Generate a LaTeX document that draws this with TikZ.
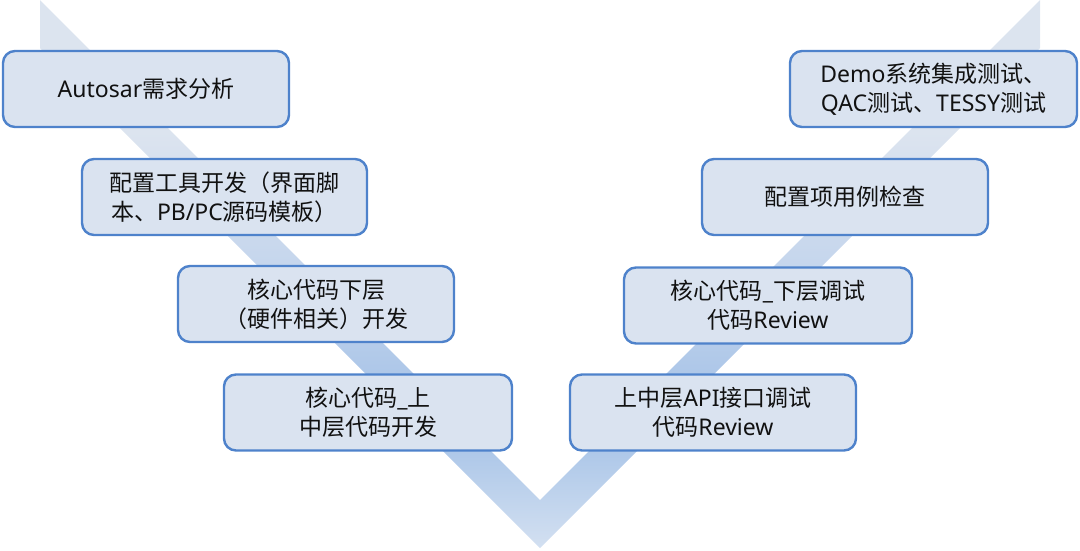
\documentclass[tikz,border=0pt]{standalone}
\usepackage{fontspec}
\setmainfont{Noto Sans CJK SC}
\newfontfamily\lat{Noto Sans}
\definecolor{tipc}{HTML}{D3E0F1}
\definecolor{bandblue}{HTML}{A2C0E6}
\definecolor{bandmid}{HTML}{BFD2EC}
\definecolor{bandtop}{HTML}{DCE4EF}
\definecolor{boxfill}{HTML}{DAE3F0}
\definecolor{boxline}{HTML}{4E82CB}
\definecolor{txt}{HTML}{111111}
\pgfdeclareverticalshading{vband}{100bp}{color(0bp)=(tipc); color(25bp)=(tipc); color(36.7bp)=(bandblue); color(47.6bp)=(bandmid); color(63bp)=(bandtop); color(75bp)=(bandtop); color(100bp)=(bandtop)}
\tikzset{
  stepbox/.style={draw=boxline, line width=2.4pt, fill=boxfill, rounded corners=12pt,
    minimum height=76pt, align=center, text=txt,
    font=\fontsize{23pt}{29pt}\selectfont, inner sep=0pt},
}
\begin{document}
\begin{tikzpicture}[x=1pt,y=-1pt]
\useasboundingbox (0,0) rectangle (1080,550);
\shade[shading=vband] (40,0) -- (540,500) -- (1040,0) -- (1040,48) -- (540,548) -- (40,48) -- cycle;
\node[stepbox, minimum width=286pt] (a1) at (146,89) {{\lat Autosar}需求分析};
\node[stepbox, minimum width=285pt] (a2) at (224.5,197) {配置工具开发（界面脚\\本、{\lat PB/PC}源码模板）};
\node[stepbox, minimum width=276pt] (a3) at (316,304) {核心代码下层\\（硬件相关）开发};
\node[stepbox, minimum width=288pt] (a4) at (368,412.5) {核心代码{\lat\_}上\\中层代码开发};
\node[stepbox, minimum width=287pt] (b1) at (933.5,89) {{\lat Demo}系统集成测试、\\{\lat QAC}测试、{\lat TESSY}测试};
\node[stepbox, minimum width=286pt] (b2) at (845,197) {配置项用例检查};
\node[stepbox, minimum width=288pt] (b3) at (768,305.5) {核心代码{\lat\_}下层调试\\代码{\lat Review}};
\node[stepbox, minimum width=286pt] (b4) at (713,412.5) {上中层{\lat API}接口调试\\代码{\lat Review}};
\end{tikzpicture}
\end{document}
